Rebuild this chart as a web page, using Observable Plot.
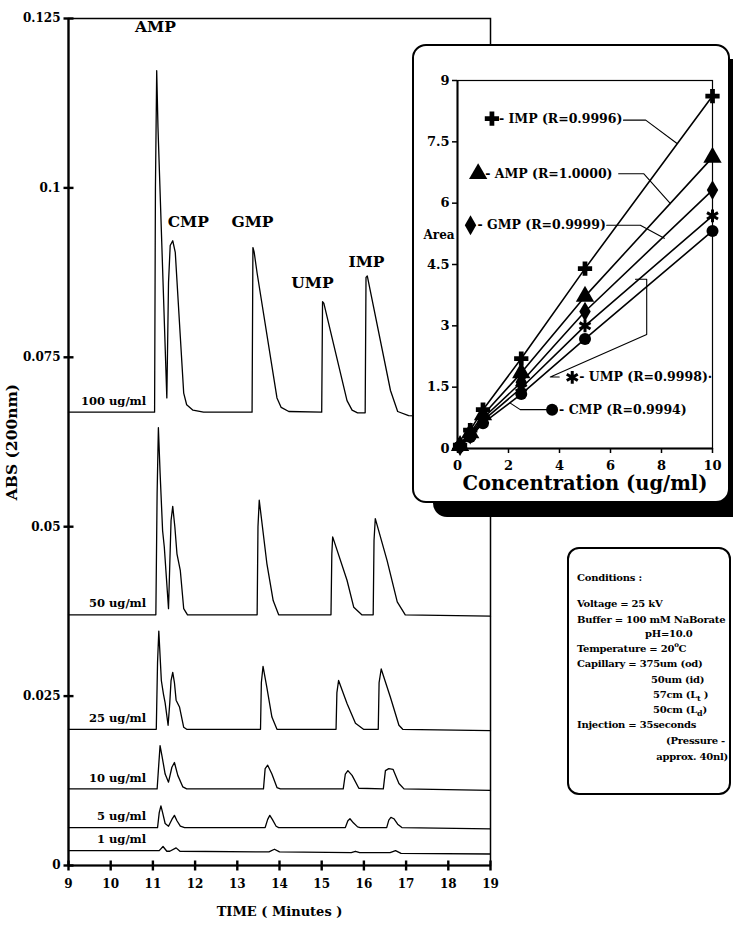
<!DOCTYPE html>
<html><head><meta charset="utf-8">
<script src="https://cdn.jsdelivr.net/npm/d3@7"></script>
<script src="https://cdn.jsdelivr.net/npm/@observablehq/plot@0.6"></script>
<style>
html,body{margin:0;padding:0;background:#fff;}
#page{position:relative;width:733px;height:928px;overflow:hidden;font-family:"DejaVu Serif",serif;font-weight:bold;color:#000;}
#main,#inset{position:absolute;}
#main{left:0;top:0;}
#inset{left:413px;top:45px;}
#shadow{position:absolute;left:433px;top:59px;width:316px;height:458px;background:#000;border-radius:14px;}
#insetBox{position:absolute;left:412px;top:44px;width:314px;height:455px;border:2px solid #000;border-radius:14px;background:#fff;}
#cond{position:absolute;left:567px;top:547px;width:160px;height:244px;border:2px solid #000;border-radius:12px;background:#fff;}
.cl{position:absolute;white-space:nowrap;font-size:10px;line-height:12px;letter-spacing:-0.25px;}
.cl sub{font-size:8px;vertical-align:-3px;line-height:0;}
.cl sup{font-size:7px;vertical-align:5px;line-height:0;}
</style></head>
<body><div id="page">
<div id="main"></div>
<div id="shadow"></div>
<div id="insetBox"></div>
<div id="inset"></div>
<div id="cond">
<div class="cl" style="top:23px;left:8px">Conditions :</div>
<div class="cl" style="top:49px;left:8px">Voltage = 25 kV</div>
<div class="cl" style="top:65px;left:8px">Buffer = 100 mM NaBorate</div>
<div class="cl" style="top:79px;left:76px">pH=10.0</div>
<div class="cl" style="top:94px;left:8px">Temperature = 20<sup>o</sup>C</div>
<div class="cl" style="top:109px;left:8px">Capillary = 375um (od)</div>
<div class="cl" style="top:125px;left:82px">50um (id)</div>
<div class="cl" style="top:140px;left:84px">57cm (L<sub>t</sub> )</div>
<div class="cl" style="top:155px;left:84px">50cm (L<sub>d</sub>)</div>
<div class="cl" style="top:170px;left:8px">Injection = 35seconds</div>
<div class="cl" style="top:186px;right:4px">(Pressure -</div>
<div class="cl" style="top:202px;right:1px">approx. 40nl)</div>
</div>
</div>
<script>
// ---------- Main chromatogram data: [time (min), absorbance] vertices
const trace100 = [[9.00,0.0669],[11.04,0.0669],[11.06,0.1000],[11.09,0.1173],[11.12,0.1090],[11.33,0.0690],[11.37,0.0860],[11.41,0.0915],[11.47,0.0922],[11.53,0.0905],[11.65,0.0780],[11.73,0.0697],[11.80,0.0680],[11.95,0.0672],[12.20,0.0669],
[13.35,0.0669],[13.37,0.0912],[13.40,0.0905],[13.47,0.0874],[13.94,0.0690],[14.04,0.0676],[14.22,0.0670],
[15.00,0.0669],[15.02,0.0832],[15.05,0.0830],[15.60,0.0686],[15.72,0.0672],[15.85,0.0668],
[16.03,0.0668],[16.05,0.0868],[16.08,0.0870],[16.63,0.0701],[16.80,0.0670],[17.06,0.0664],[19.00,0.0660]];
const trace50 = [[9.00,0.0370],[11.07,0.0370],[11.10,0.0550],[11.13,0.0646],[11.17,0.0580],[11.23,0.0494],[11.27,0.0470],[11.37,0.0379],[11.43,0.0509],[11.47,0.0530],[11.52,0.0500],[11.57,0.0460],[11.65,0.0435],[11.73,0.0379],[11.82,0.0370],
[13.47,0.0370],[13.49,0.0500],[13.52,0.0539],[13.70,0.0446],[13.85,0.0391],[13.98,0.0370],
[15.22,0.0370],[15.24,0.0460],[15.26,0.0485],[15.60,0.0421],[15.76,0.0381],[15.95,0.0370],
[16.22,0.0370],[16.24,0.0480],[16.27,0.0512],[16.55,0.0450],[16.79,0.0389],[16.98,0.0370],[19.00,0.0368]];
const trace25 = [[9.00,0.0201],[11.08,0.0201],[11.11,0.0300],[11.14,0.0346],[11.20,0.0273],[11.25,0.0253],[11.29,0.0240],[11.36,0.0207],[11.40,0.0240],[11.43,0.0273],[11.47,0.0285],[11.51,0.0270],[11.55,0.0244],[11.63,0.0234],[11.73,0.0204],[11.80,0.0201],
[13.55,0.0201],[13.57,0.0270],[13.61,0.0294],[13.70,0.0263],[13.82,0.0219],[13.94,0.0201],
[15.34,0.0201],[15.36,0.0255],[15.40,0.0273],[15.60,0.0239],[15.80,0.0210],[15.99,0.0201],
[16.34,0.0201],[16.36,0.0270],[16.41,0.0290],[16.63,0.0248],[16.83,0.0207],[16.92,0.0201],[19.00,0.0199]];
const trace10 = [[9.00,0.0113],[11.10,0.0113],[11.14,0.0150],[11.17,0.0177],[11.22,0.0160],[11.29,0.0135],[11.37,0.0123],[11.45,0.0145],[11.51,0.0152],[11.59,0.0133],[11.71,0.0116],[11.80,0.0113],
[13.62,0.0113],[13.66,0.0143],[13.72,0.0148],[13.82,0.0135],[13.94,0.0115],[14.02,0.0113],
[15.51,0.0113],[15.56,0.0135],[15.62,0.0140],[15.72,0.0133],[15.88,0.0114],
[16.46,0.0113],[16.51,0.0140],[16.59,0.0143],[16.69,0.0142],[16.83,0.0121],[16.95,0.0113],[19.00,0.0111]];
const trace5 = [[9.00,0.0056],[11.11,0.0056],[11.15,0.0078],[11.19,0.0088],[11.23,0.0078],[11.29,0.0062],[11.37,0.0058],[11.45,0.0068],[11.51,0.0074],[11.57,0.0066],[11.65,0.0058],[11.75,0.0056],
[13.66,0.0056],[13.72,0.0068],[13.77,0.0074],[13.83,0.0068],[13.92,0.0058],[13.98,0.0056],
[15.56,0.0056],[15.62,0.0066],[15.67,0.0069],[15.75,0.0063],[15.85,0.0057],[15.91,0.0056],
[16.54,0.0056],[16.59,0.0067],[16.64,0.0071],[16.71,0.0069],[16.80,0.0061],[16.90,0.0056],[19.00,0.0054]];
const trace1 = [[9.00,0.0022],[11.15,0.0022],[11.24,0.0028],[11.33,0.0021],[11.40,0.0021],[11.55,0.0026],[11.64,0.0021],
[13.75,0.0020],[13.88,0.0024],[14.00,0.0020],
[15.70,0.0019],[15.80,0.0021],[15.90,0.0019],
[16.62,0.0019],[16.75,0.0022],[16.88,0.0018],[19.00,0.0017]];
const traceNames = ["100 ug/ml","50 ug/ml","25 ug/ml","10 ug/ml","5 ug/ml","1 ug/ml"];
const traces = [trace100, trace50, trace25, trace10, trace5, trace1];
const traceLabelTime = 10.84;

const peakNames = ["AMP","CMP","GMP","UMP","IMP"];
const peakLabelTime = [11.06, 11.84, 13.36, 14.78, 16.06];
const peakLabelAbs = [0.1237, 0.0949, 0.0949, 0.0860, 0.0890];

const timeTicks = [9,10,11,12,13,14,15,16,17,18,19];
const absTicks = [0, 0.025, 0.05, 0.075, 0.1, 0.125];
const absTickLabels = ["0","0.025","0.05","0.075","0.1","0.125"];

// ---------- Inset calibration data
const conc = [0.1, 0.5, 1, 2.5, 5, 10];
const areaIMP = [0.08, 0.45, 0.95, 2.20, 4.40, 8.62];
const areaAMP = [0.07, 0.38, 0.82, 1.85, 3.72, 7.12];
const areaGMP = [0.06, 0.34, 0.74, 1.62, 3.35, 6.32];
const areaUMP = [0.05, 0.31, 0.68, 1.48, 3.00, 5.69];
const areaCMP = [0.05, 0.28, 0.62, 1.33, 2.68, 5.32];
const seriesNames = ["IMP","AMP","GMP","UMP","CMP"];
const seriesAreas = [areaIMP, areaAMP, areaGMP, areaUMP, areaCMP];
const seriesSymbols = ["cross","triangle","diamond","asterisk","circle"];
const legendText = ["- IMP (R=0.9996)","- AMP (R=1.0000)","- GMP (R=0.9999)","- UMP (R=0.9998)\u00b7","- CMP (R=0.9994)"];
const legendConc = [1.35, 0.81, 0.51, 4.50, 3.71];
const legendArea = [8.07, 6.72, 5.46, 1.74, 0.95];
const leaderIMP = [[6.51,8.03],[7.38,8.03],[8.61,7.46]];
const leaderAMP = [[6.32,6.72],[7.30,6.72],[8.35,5.99]];
const leaderGMP = [[5.85,5.46],[7.17,5.46],[8.11,5.14]];
const leaderUMP = [[3.99,1.75],[3.64,1.75],[7.42,2.79],[7.42,4.14],[6.98,4.14]];
const leaderCMP = [[3.51,0.95],[2.46,0.95],[2.07,1.11]];
const leaders = [leaderIMP, leaderAMP, leaderGMP, leaderUMP, leaderCMP];
const concTicks = [0,2,4,6,8,10];
const areaTicks = [0,1.5,3,4.5,6,7.5,9];
const areaTickLabels = ["0","1.5","3","4.5","6","7.5","9"];

const FONT = '"DejaVu Serif", serif';
const baseStyle = {fontFamily: FONT, fontWeight: "bold", fontSize: "12px", background: "transparent", color: "#000", maxWidth: "none", overflow: "visible"};

// tick glyphs that straddle the axis lines (as in the original figure)
const vTick = {draw(ctx) { ctx.moveTo(0, -5); ctx.lineTo(0, 5); }};
const hTick = {draw(ctx) { ctx.moveTo(-5, 0); ctx.lineTo(5, 0); }};

// ---------- Main plot
const xDom = [timeTicks[0], timeTicks[timeTicks.length - 1]];
const yDom = [absTicks[0], absTicks[absTicks.length - 1]];
const traceRows = traces.flatMap((tr, i) => tr.map(([t, a]) => ({name: traceNames[i], t, a})));
const labelRows = traces.map((tr, i) => ({name: traceNames[i], t: traceLabelTime, a: tr[0][1]}));
const peakRows = peakNames.map((n, i) => ({n, t: peakLabelTime[i], a: peakLabelAbs[i]}));

const main = Plot.plot({
  width: 733, height: 928,
  marginLeft: 68, marginRight: 243, marginTop: 18, marginBottom: 63,
  style: baseStyle,
  x: {domain: xDom},
  y: {domain: yDom},
  marks: [
    Plot.frame({stroke: "#000", strokeWidth: 1.5}),
    Plot.ruleX([xDom[0]], {stroke: "#000", strokeWidth: 2.2}),
    Plot.ruleY([yDom[0]], {stroke: "#000", strokeWidth: 2.2}),
    Plot.dot(timeTicks, {x: d => d, y: yDom[0], symbol: vTick, stroke: "#000", strokeWidth: 2.4}),
    Plot.dot(absTicks, {x: xDom[0], y: d => d, symbol: hTick, stroke: "#000", strokeWidth: 2.4}),
    Plot.axisX({ticks: timeTicks, tickSize: 0, tickPadding: 14, fontSize: 12, tickFormat: d => String(d), label: null}),
    Plot.axisY({ticks: absTicks, tickSize: 0, tickPadding: 8, fontSize: 12, tickFormat: d => absTickLabels[absTicks.indexOf(d)], label: null}),
    Plot.line(traceRows, {x: "t", y: "a", z: "name", stroke: "#000", strokeWidth: 1.3, curve: "linear"}),
    Plot.text(labelRows, {x: "t", y: "a", text: "name", textAnchor: "end", dy: -11, fontSize: 11.5}),
    Plot.text(peakRows, {x: "t", y: "a", text: "n", fontSize: 15.5}),
    Plot.text(["TIME ( Minutes )"], {frameAnchor: "bottom", dy: 50, fontSize: 13}),
    Plot.text(["ABS (200nm)"], {frameAnchor: "left", dx: -56, rotate: -90, textAnchor: "middle", fontSize: 15.5})
  ]
});
document.getElementById("main").appendChild(main);

// ---------- Inset plot
const seriesRows = seriesNames.flatMap((n, i) => conc.map((c, j) => ({n, c, v: seriesAreas[i][j]})));
const leaderRows = leaders.flatMap((L, i) => L.map(([c, v]) => ({n: seriesNames[i], c, v})));
const insetMarks = [
  Plot.frame({stroke: "#000", strokeWidth: 1.2}),
  Plot.ruleX([concTicks[0]], {stroke: "#000", strokeWidth: 2}),
  Plot.ruleY([areaTicks[0]], {stroke: "#000", strokeWidth: 2}),
  Plot.axisX({ticks: concTicks, tickSize: 5, tickPadding: 7, strokeWidth: 1.5, fontSize: 13, tickFormat: d => String(d), label: null}),
  Plot.axisY({ticks: areaTicks, tickSize: 5, tickPadding: 3, strokeWidth: 1.5, fontSize: 13, tickFormat: d => areaTickLabels[areaTicks.indexOf(d)], label: null}),
  Plot.line(seriesRows, {x: "c", y: "v", z: "n", stroke: "#000", strokeWidth: 1.6}),
  Plot.line(leaderRows, {x: "c", y: "v", z: "n", stroke: "#000", strokeWidth: 1.1})
];
seriesNames.forEach((n, i) => {
  const sym = seriesSymbols[i];
  const isStroke = sym === "asterisk";
  const opts = {x: "c", y: "v", symbol: sym, r: sym === "triangle" ? 6.8 : 6,
    fill: isStroke ? "none" : "#000", stroke: isStroke ? "#000" : "none", strokeWidth: isStroke ? 3 : 0};
  insetMarks.push(Plot.dot(seriesRows.filter(d => d.n === n), opts));
  insetMarks.push(Plot.dot([{c: legendConc[i], v: legendArea[i]}], opts));
  insetMarks.push(Plot.text([{c: legendConc[i], v: legendArea[i], t: legendText[i]}], {x: "c", y: "v", text: "t", textAnchor: "start", dx: 7, fontSize: 12.5}));
});
insetMarks.push(Plot.text(["Concentration (ug/ml)"], {frameAnchor: "bottom", dy: 41, fontSize: 19.5}));
insetMarks.push(Plot.text(["Area"], {frameAnchor: "left", dx: -34, dy: -29, fontSize: 12, textAnchor: "start"}));

const inset = Plot.plot({
  width: 316, height: 456,
  marginLeft: 44, marginRight: 17, marginTop: 35, marginBottom: 53,
  style: baseStyle,
  x: {domain: [0, 10]},
  y: {domain: [0, 9]},
  marks: insetMarks
});
document.getElementById("inset").appendChild(inset);
</script>
</body></html>
